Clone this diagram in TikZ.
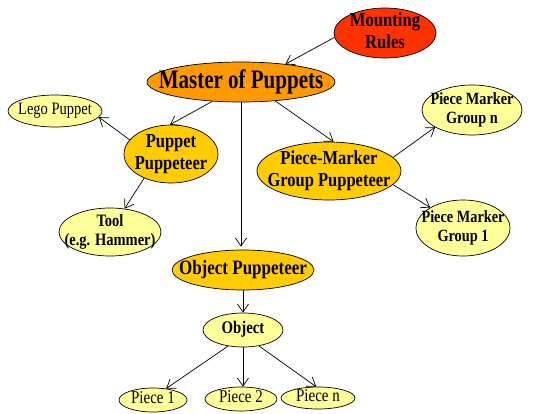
\documentclass[tikz,border=0pt]{standalone}
\usepackage{fontspec}
\setmainfont{Liberation Serif}
\usepackage{graphicx}
\usetikzlibrary{shapes.geometric,arrows.meta}
\definecolor{cRed}{HTML}{FF3300}
\definecolor{cOrange}{HTML}{FF9900}
\definecolor{cGold}{HTML}{FFCC00}
\definecolor{cPale}{HTML}{FFFF99}
\newcommand\lbltext[4]{\scalebox{1}[#1]{\fontsize{#2}{#3}\selectfont\begin{tabular}{@{}c@{}}#4\end{tabular}}}
\begin{document}
\begin{tikzpicture}[x=1pt,y=-1pt,
 ell/.style 2 args={draw=black, line width=0.7pt, ellipse, inner sep=0pt, minimum width=#1pt, minimum height=#2pt},
 arr/.style={-{Straight Barb[length=8pt,width=11pt]}, line width=0.7pt},
 lb/.style={inner sep=0pt, font=\bfseries},
 lr/.style={inner sep=0pt, font=\normalfont}]
\useasboundingbox[fill=white] (0,0) rectangle (536,413);

\node[ell={102}{50}, fill=cRed, label={[lb]center:{\lbltext{1.2}{16.6}{18.5}{Mounting\\Rules}}}] (mr) at (385,33) {};
\node[ell={188}{40}, fill=cOrange, label={[lb]center:{\lbltext{1.27}{21}{24}{Master of Puppets}}}] (mp) at (241,82) {};
\node[ell={94}{32}, fill=cPale, label={[lr]center:{\lbltext{1.2}{14.5}{16}{Lego Puppet}}}] (lego) at (55,111) {};
\node[ell={94}{58}, fill=cGold, label={[lb]center:{\lbltext{1.2}{16.5}{19}{Puppet\\Puppeteer}}}] (pp) at (171,154) {};
\node[ell={144}{58}, fill=cGold, label={[lb]center:{\lbltext{1.2}{16.5}{19}{Piece-Marker\\Group Puppeteer}}}] (pm) at (329,171) {};
\node[ell={100}{50}, fill=cPale, label={[lb]center:{\lbltext{1.2}{14.3}{15.5}{Piece Marker\\Group n}}}] (gn) at (472,110) {};
\node[ell={94}{56}, fill=cPale, label={[lb]center:{\lbltext{1.2}{14.3}{15.5}{Piece Marker\\Group 1}}}] (g1) at (463,228) {};
\node[ell={102}{48}, fill=cPale, label={[lb]center:{\lbltext{1.2}{14.5}{16}{Tool\\(e.g. Hammer)}}}] (tool) at (110,232) {};
\node[ell={142}{40}, fill=cGold, label={[lb]center:{\lbltext{1.2}{17}{19}{Object Puppeteer}}}] (op) at (243,270) {};
\node[ell={80}{34}, fill=cPale, label={[lb]center:{\lbltext{1.2}{14.8}{16}{Object}}}] (obj) at (243,330) {};
\node[ell={68}{24}, fill=cPale, label={[lr]center:{\lbltext{1.2}{15}{16}{Piece 1}}}] (p1) at (153,400) {};
\node[ell={72}{24}, fill=cPale, label={[lr]center:{\lbltext{1.2}{15}{16}{Piece 2}}}] (p2) at (241,399) {};
\node[ell={74}{22}, fill=cPale, label={[lr]center:{\lbltext{1.2}{15}{16}{Piece n}}}] (pn) at (318,398) {};

\draw[arr] (mr.185) -- (mp.22);
\draw[arr] (mp.214.6) -- (pp.92);
\draw[arr] (mp.south) -- ([yshift=3pt]mp.south |- op.north);
\draw[arr] (mp.331.6) -- (pm.81);
\draw[arr] (pp.161) -- (lego.352);
\draw[arr] (pp.222.7) -- (tool.58);
\draw[arr] (pm.12) -- (gn.205);
\draw[arr] (pm.348) -- (g1.148);
\draw[arr] (op.south) -- (obj.north);
\draw[arr] (obj.227) -- (p1.41);
\draw[arr] (obj.south) -- (obj.south |- p2.north);
\draw[arr] (obj.315) -- (pn.99);
\end{tikzpicture}
\end{document}
